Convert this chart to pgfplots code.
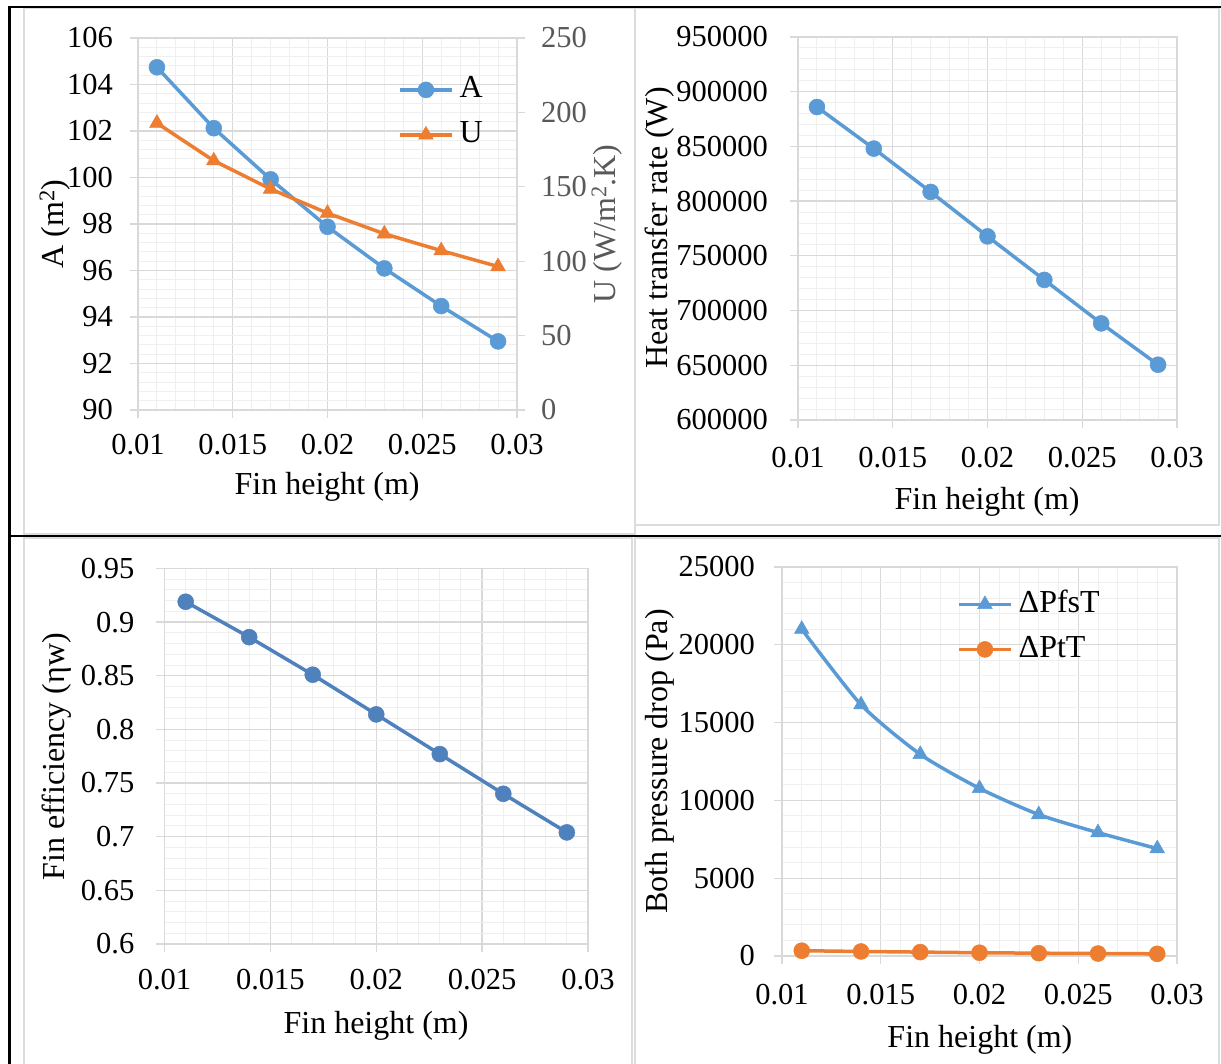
\documentclass[border=0pt]{standalone}
\usepackage{fontspec}
\setmainfont{Liberation Serif}
\usepackage{pgfplots}
\pgfplotsset{compat=1.18}
\definecolor{xblue}{HTML}{5B9BD5}
\definecolor{xorange}{HTML}{ED7D31}
\definecolor{xdblue}{HTML}{4F81BD}
\definecolor{majgrid}{HTML}{D9D9D9}
\definecolor{mingrid}{HTML}{EFEFEF}
\definecolor{framegrey}{HTML}{DCDCDC}
\definecolor{lblgrey}{HTML}{595959}
\newcommand{\tickfont}{\fontsize{30.5}{32}\selectfont}
\newcommand{\labfont}{\fontsize{32}{34}\selectfont}

\pgfplotsset{
  excel/.style={
    scale only axis,
    anchor=south west,
    scaled ticks=false,
    xmin=0.01, xmax=0.03,
    xtick={0.01,0.015,0.02,0.025,0.03},
    xticklabels={0.01,0.015,0.02,0.025,0.03},
    minor x tick num=4, minor y tick num=4,
    grid=both,
    major grid style={draw=majgrid, line width=1.3pt},
    minor grid style={draw=mingrid, line width=1pt},
    axis line style={draw=majgrid, line width=1.3pt},
    tick align=outside,
    major tick length=8pt, minor tick length=0pt,
    major tick style={draw=majgrid, line width=1.3pt},
    xtick pos=left, ytick pos=left,
    tick label style={font=\tickfont, inner sep=0pt, text=black},
    label style={font=\labfont, inner sep=0pt},
    ylabel style={anchor=center},
    xlabel style={anchor=center},
    /pgf/number format/assume math mode=true,
    legend style={draw=none, fill=none, font=\labfont, inner sep=0pt,
      nodes={inner sep=0pt, text height=20pt, text depth=4pt},
      row sep=21pt, column sep=6pt},
    legend cell align=left,
    legend image code/.code={\draw[mark repeat=2,mark phase=2,#1] plot coordinates {(0pt,0pt) (26pt,0pt) (52pt,0pt)};},
  },
  ser/.style={line width=3.5pt, mark options={solid, line width=0.5pt}},
}

\begin{document}
\begin{tikzpicture}
\useasboundingbox (0,0) rectangle (1221pt,1064pt);
% table borders and chart frames
\draw[framegrey, line width=2pt] (24pt,530pt) rectangle (635pt,1056pt);
\draw[framegrey, line width=2pt] (635pt,539pt) rectangle (1219pt,1056pt);
\draw[framegrey, line width=2pt] (24pt,-2pt) rectangle (632pt,526pt);
\draw[framegrey, line width=2pt] (635pt,-2pt) rectangle (1219pt,526pt);
\draw[black, line width=2.5pt] (8pt,1057pt) -- (1221pt,1057pt);
\draw[black, line width=2.5pt] (9.5pt,1058pt) -- (9.5pt,0pt);
\draw[black, line width=2pt] (9.5pt,528pt) -- (1221pt,528pt);

% ---------- Panel 1 ----------
\begin{axis}[excel, at={(138pt,654pt)}, width=379pt, height=372pt,
  ymin=90, ymax=106, ytick={90,92,94,96,98,100,102,104,106},
  yticklabels={90,92,94,96,98,100,102,104,106},
  xticklabel style={yshift=-16pt}, yticklabel style={xshift=-17pt},
  xlabel={Fin height (m)}, xlabel style={at={(axis description cs:0.499,-0.207)}},
  ylabel={A (m\textsuperscript{2})}, ylabel style={at={(axis description cs:-0.219,0.5)}},
]
\addplot[ser, xblue, mark=*, mark size=8pt] coordinates {
(0.011,104.74) (0.014,102.12) (0.017,99.92) (0.020,97.88) (0.023,96.09) (0.026,94.47) (0.029,92.95)};
\end{axis}
\begin{axis}[excel, at={(138pt,654pt)}, width=379pt, height=372pt,
  grid=none, axis x line=none, axis y line*=right, ytick pos=right,
  ymin=0, ymax=250, ytick={0,50,100,150,200,250},
  yticklabels={0,50,100,150,200,250},
  yticklabel style={anchor=west, xshift=16pt, text=lblgrey},
  ylabel={U (W/m\textsuperscript{2}.K)},
  ylabel style={at={(axis description cs:1.237,0.5)}, text=lblgrey},
  legend style={at={(axis description cs:0.686,0.80)}, anchor=west},
]
\addlegendimage{ser, xblue, mark=*, mark size=8pt}
\addlegendentry{A}
\addplot[ser, xorange, mark=triangle*, mark size=8.5pt] coordinates {
(0.011,192.8) (0.014,167.5) (0.017,148.5) (0.020,132.3) (0.023,118.4) (0.026,107.1) (0.029,96.4)};
\addlegendentry{U}
\end{axis}

% ---------- Panel 2 ----------
\begin{axis}[excel, at={(798pt,644pt)}, width=379pt, height=383pt,
  ymin=600000, ymax=950000,
  ytick={600000,650000,700000,750000,800000,850000,900000,950000},
  yticklabels={600000,650000,700000,750000,800000,850000,900000,950000},
  xticklabel style={yshift=-19.5pt}, yticklabel style={xshift=-22pt},
  xlabel={Fin height (m)}, xlabel style={at={(axis description cs:0.499,-0.214)}},
  ylabel={Heat transfer rate (W)}, ylabel style={at={(axis description cs:-0.364,0.501)}},
]
\addplot[ser, xblue, mark=*, mark size=8pt] coordinates {
(0.011,886000) (0.014,848000) (0.017,808400) (0.020,767800) (0.023,728000) (0.026,688300) (0.029,650500)};
\end{axis}

% ---------- Panel 3 ----------
\begin{axis}[excel, at={(164.5pt,120pt)}, width=423.5pt, height=375.5pt,
  ymin=0.6, ymax=0.95,
  ytick={0.6,0.65,0.7,0.75,0.8,0.85,0.9,0.95},
  yticklabels={0.6,0.65,0.7,0.75,0.8,0.85,0.9,0.95},
  xticklabel style={yshift=-17pt}, yticklabel style={xshift=-22pt},
  xlabel={Fin height (m)}, xlabel style={at={(axis description cs:0.4995,-0.218)}},
  ylabel={Fin efficiency (ηw)}, ylabel style={at={(axis description cs:-0.254,0.499)}},
]
\addplot[ser, xdblue, mark=*, mark size=8pt] coordinates {
(0.011,0.919) (0.014,0.886) (0.017,0.851) (0.020,0.814) (0.023,0.777) (0.026,0.740) (0.029,0.704)};
\end{axis}

% ---------- Panel 4 ----------
\begin{axis}[excel, at={(782pt,108pt)}, width=395pt, height=389pt,
  ymin=0, ymax=25000,
  ytick={0,5000,10000,15000,20000,25000},
  yticklabels={0,5000,10000,15000,20000,25000},
  xticklabel style={yshift=-20.5pt}, yticklabel style={xshift=-19pt},
  xlabel={Fin height (m)}, xlabel style={at={(axis description cs:0.501,-0.216)}},
  ylabel={Both pressure drop (Pa)}, ylabel style={at={(axis description cs:-0.309,0.4998)}},
  legend style={at={(axis description cs:0.443,0.846)}, anchor=west},
]
\addplot[ser, xblue, mark=triangle*, mark size=8.5pt, smooth, tension=0.4] coordinates {
(0.011,21000) (0.014,16150) (0.017,12960) (0.020,10770) (0.023,9090) (0.026,7930) (0.029,6900)};
\addlegendentry{ΔPfsT}
\addplot[ser, xorange, mark=*, mark size=8pt] coordinates {
(0.011,340) (0.014,290) (0.017,250) (0.020,210) (0.023,180) (0.026,160) (0.029,140)};
\addlegendentry{ΔPtT}
\end{axis}
\end{tikzpicture}
\end{document}
